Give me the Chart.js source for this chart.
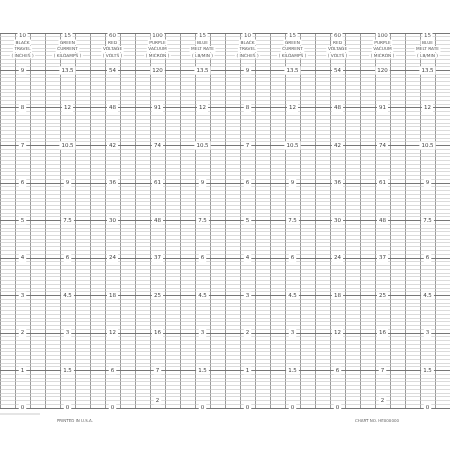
<!DOCTYPE html>
<html>
<head>
<script src="https://cdn.jsdelivr.net/npm/chart.js"></script>
<style>
  body { margin: 0; background: #fff; }
  #wadah { width: 450px; height: 450px; }
</style>
</head>
<body>
<div id="wadah"><canvas id="grafik"></canvas></div>
<script>
// posisi baris (satuan garis mayor) untuk angka skala
const barisSkala = [9, 8, 7, 6, 5, 4, 3, 2, 1, 0];
const skalaHitam = ['9', '8', '7', '6', '5', '4', '3', '2', '1', '0'];
const skalaHijau = ['13.5', '12', '10.5', '9', '7.5', '6', '4.5', '3', '1.5', '0'];
const skalaMerah = ['54', '48', '42', '36', '30', '24', '18', '12', '6', '0'];
const barisUngu = [9, 8, 7, 6, 5, 4, 3, 2, 1, 0.2];
const skalaUngu = ['120', '91', '74', '61', '48', '37', '25', '16', '7', '2'];
const skalaBiru = ['13.5', '12', '10.5', '9', '7.5', '6', '4.5', '3', '1.5', '0'];

const judulKolom = [
  ['10', 'BLACK', 'TRAVEL', '( INCHES )'],
  ['15', 'GREEN', 'CURRENT', '( KILOAMPS )'],
  ['60', 'RED', 'VOLTAGE', '( VOLTS )'],
  ['100', 'PURPLE', 'VACUUM', '( MICRON )'],
  ['15', 'BLUE', 'MELT RATE', '( LB/MIN )']
];
// pusat kolom dalam satuan garis vertikal (0..30)
const pusatKolom = [1.5, 4.5, 7.5, 10.5, 13.5, 16.5, 19.5, 22.5, 25.5, 28.5];

const pluginTeks = {
  id: 'teksKertas',
  afterDraw(chart) {
    const ctx = chart.ctx;
    const sx = chart.scales.x, sy = chart.scales.y;
    const semuaSkala = [skalaHitam, skalaHijau, skalaMerah, skalaUngu, skalaBiru];
    ctx.save();
    ctx.textAlign = 'center';
    ctx.textBaseline = 'middle';
    pusatKolom.forEach((px, i) => {
      const k = i % 5;
      const x = sx.getPixelForValue(px);
      const baris = k === 3 ? barisUngu : barisSkala;
      ctx.font = '5.5px "DejaVu Sans"';
      semuaSkala[k].forEach((t, j) => {
        const y = sy.getPixelForValue(baris[j]);
        const w = ctx.measureText(t).width + 4;
        ctx.fillStyle = '#fff';
        ctx.fillRect(x - w / 2, y - 4, w, 8);
        ctx.fillStyle = '#444';
        ctx.fillText(t, x, y);
      });
      // judul kolom
      const yAtas = sy.getPixelForValue(10);
      judulKolom[k].forEach((t, j) => {
        ctx.font = j === 0 ? '5.5px "DejaVu Sans"' : '4.3px "DejaVu Sans"';
        const y = yAtas + 3 + j * 6.5;
        const w = ctx.measureText(t).width + 3;
        ctx.fillStyle = '#fff';
        ctx.fillRect(x - w / 2, y - 3, w, 6);
        ctx.fillStyle = '#555';
        ctx.fillText(t, x, y);
      });
    });
    ctx.font = '4px "DejaVu Sans"';
    ctx.fillStyle = '#666';
    ctx.fillText('PRINTED IN U.S.A.', 75, 421);
    ctx.fillText('CHART NO. HE000000', 377, 421);
    ctx.strokeStyle = '#aaa';
    ctx.lineWidth = 0.6;
    ctx.beginPath();
    ctx.moveTo(0, 414); ctx.lineTo(40, 414);
    ctx.stroke();
    ctx.restore();
  }
};

new Chart(document.getElementById('grafik'), {
  type: 'scatter',
  data: { datasets: [{ data: [], pointRadius: 0 }] },
  plugins: [pluginTeks],
  options: {
    responsive: true,
    maintainAspectRatio: false,
    animation: false,
    layout: { padding: { top: 33, bottom: 42, left: 0, right: 0 } },
    plugins: { legend: { display: false }, tooltip: { enabled: false } },
    scales: {
      x: {
        min: 0, max: 30,
        ticks: { display: false, stepSize: 1 },
        border: { display: false },
        grid: { drawTicks: false, color: '#999', lineWidth: 1 }
      },
      y: {
        min: 0, max: 10,
        ticks: { display: false, stepSize: 0.1, autoSkip: false },
        border: { display: false },
        grid: {
          drawTicks: false,
          color: c => (Math.abs(c.tick.value - Math.round(c.tick.value)) < 0.01 ? '#777' : '#ccc'),
          lineWidth: c => (Math.abs(c.tick.value - Math.round(c.tick.value)) < 0.01 ? 1 : 0.7)
        }
      }
    }
  }
});
</script>
</body>
</html>
